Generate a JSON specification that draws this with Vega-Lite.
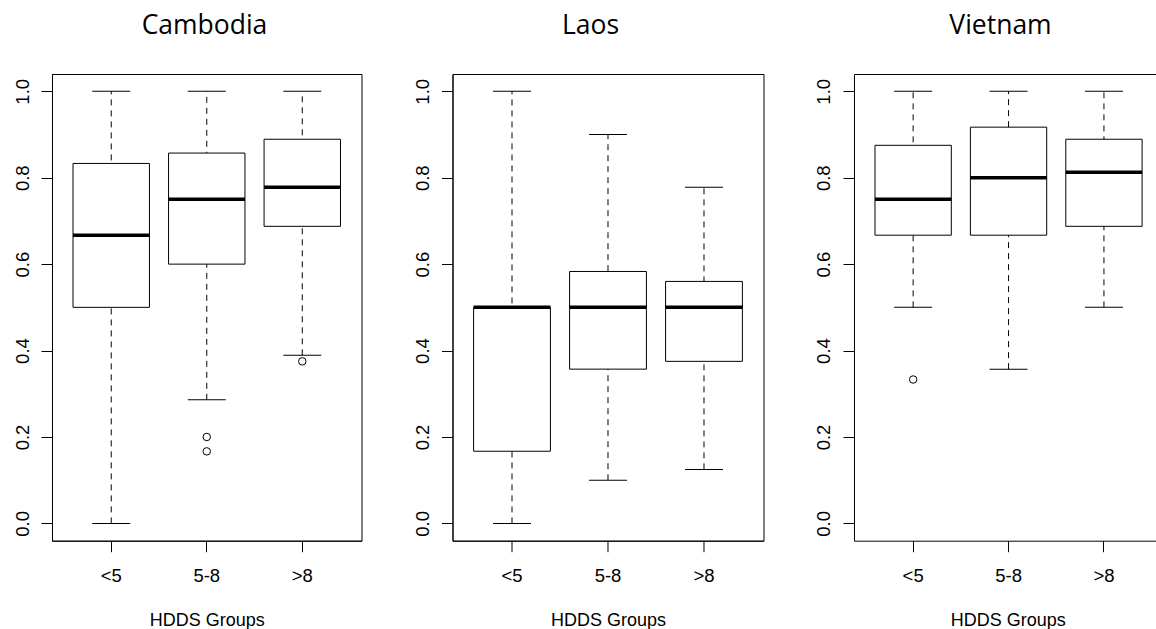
{
  "$schema": "https://vega.github.io/schema/vega-lite/v6.json",
  "background": "white",
  "padding": {"left": 12, "top": 13, "right": 0, "bottom": 0},
  "spacing": 90.5,
  "bounds": "flush",
  "datasets": {
    "cambodia": [
      {"group": "<5", "lower": 0, "q1": 0.5, "median": 0.667, "q3": 0.833, "upper": 1},
      {"group": "5-8", "lower": 0.286, "q1": 0.6, "median": 0.75, "q3": 0.857, "upper": 1},
      {"group": ">8", "lower": 0.389, "q1": 0.6875, "median": 0.778, "q3": 0.889, "upper": 1}
    ],
    "cambodia_out": [
      {"group": "5-8", "value": 0.2},
      {"group": "5-8", "value": 0.1667},
      {"group": ">8", "value": 0.375}
    ],
    "laos": [
      {"group": "<5", "lower": 0, "q1": 0.167, "median": 0.5, "q3": 0.5, "upper": 1},
      {"group": "5-8", "lower": 0.1, "q1": 0.357, "median": 0.5, "q3": 0.583, "upper": 0.9},
      {"group": ">8", "lower": 0.125, "q1": 0.375, "median": 0.5, "q3": 0.56, "upper": 0.778}
    ],
    "vietnam": [
      {"group": "<5", "lower": 0.5, "q1": 0.667, "median": 0.75, "q3": 0.875, "upper": 1},
      {"group": "5-8", "lower": 0.357, "q1": 0.667, "median": 0.8, "q3": 0.917, "upper": 1},
      {"group": ">8", "lower": 0.5, "q1": 0.6875, "median": 0.8125, "q3": 0.889, "upper": 1}
    ],
    "vietnam_out": [
      {"group": "<5", "value": 0.333}
    ]
  },
  "hconcat": [
    {
      "width": 309.5,
      "height": 466.7,
      "title": {"text": "Cambodia", "dx": -2.3},
      "data": {"name": "cambodia"},
      "encoding": {
        "x": {"field": "group", "type": "nominal", "sort": ["<5", "5-8", ">8"], "scale": {"paddingInner": 0.2, "paddingOuter": 0.22}, "axis": {"title": "HDDS Groups", "titleY": 84.6, "labelFontSize": 18.5}}
      },
      "layer": [
        {"mark": {"type": "rule", "color": "black", "strokeWidth": 1, "strokeDash": [6, 5]},
         "encoding": {"y": {"field": "lower", "type": "quantitative", "scale": {"domain": [-0.04, 1.04], "nice": false, "zero": false}, "axis": {"values": [0, 0.2, 0.4, 0.6, 0.8, 1], "format": ".1f", "title": null, "labelFontSize": 18.5}}, "y2": {"field": "upper"}}},
        {"mark": {"type": "bar", "fill": "white", "stroke": "black", "strokeWidth": 1},
         "encoding": {"y": {"field": "q1", "type": "quantitative"}, "y2": {"field": "q3"}}},
        {"mark": {"type": "tick", "color": "black", "opacity": 1, "size": 38, "thickness": 1},
         "encoding": {"y": {"field": "upper", "type": "quantitative"}}},
        {"mark": {"type": "tick", "color": "black", "opacity": 1, "size": 38, "thickness": 1},
         "encoding": {"y": {"field": "lower", "type": "quantitative"}}},
        {"mark": {"type": "tick", "color": "black", "opacity": 1, "size": 76.4, "thickness": 3.5},
         "encoding": {"y": {"field": "median", "type": "quantitative"}}},
        {"data": {"name": "cambodia_out"},
         "mark": {"type": "point", "shape": "circle", "filled": false, "stroke": "black", "strokeWidth": 1, "opacity": 1, "size": 56},
         "encoding": {"y": {"field": "value", "type": "quantitative"}}}
      ]
    },
    {
      "width": 311,
      "height": 466.7,
      "title": {"text": "Laos", "dx": -17.5},
      "data": {"name": "laos"},
      "encoding": {
        "x": {"field": "group", "type": "nominal", "sort": ["<5", "5-8", ">8"], "scale": {"paddingInner": 0.2, "paddingOuter": 0.22}, "axis": {"title": "HDDS Groups", "titleY": 84.6, "labelFontSize": 18.5}}
      },
      "layer": [
        {"mark": {"type": "rule", "color": "black", "strokeWidth": 1, "strokeDash": [6, 5]},
         "encoding": {"y": {"field": "lower", "type": "quantitative", "scale": {"domain": [-0.04, 1.04], "nice": false, "zero": false}, "axis": {"values": [0, 0.2, 0.4, 0.6, 0.8, 1], "format": ".1f", "title": null, "labelFontSize": 18.5}}, "y2": {"field": "upper"}}},
        {"mark": {"type": "bar", "fill": "white", "stroke": "black", "strokeWidth": 1},
         "encoding": {"y": {"field": "q1", "type": "quantitative"}, "y2": {"field": "q3"}}},
        {"mark": {"type": "tick", "color": "black", "opacity": 1, "size": 38, "thickness": 1},
         "encoding": {"y": {"field": "upper", "type": "quantitative"}}},
        {"mark": {"type": "tick", "color": "black", "opacity": 1, "size": 38, "thickness": 1},
         "encoding": {"y": {"field": "lower", "type": "quantitative"}}},
        {"mark": {"type": "tick", "color": "black", "opacity": 1, "size": 76.8, "thickness": 3.5},
         "encoding": {"y": {"field": "median", "type": "quantitative"}}}
      ]
    },
    {
      "width": 302,
      "height": 466.7,
      "title": {"text": "Vietnam", "dx": -4.5},
      "view": {"stroke": null},
      "data": {"name": "vietnam"},
      "resolve": {"axis": {"x": "independent"}},
      "layer": [
        {"mark": {"type": "rule", "color": "black", "strokeWidth": 1, "strokeDash": [6, 5]},
         "encoding": {
           "x": {"field": "group", "type": "nominal", "sort": ["<5", "5-8", ">8"], "scale": {"paddingInner": 0.2, "paddingOuter": 0.1828, "align": 0.602}, "axis": {"title": "HDDS Groups", "titleY": 84.6, "titleX": 153.8, "labelFontSize": 18.5}},
           "y": {"field": "lower", "type": "quantitative", "scale": {"domain": [-0.04, 1.04], "nice": false, "zero": false}, "axis": {"values": [0, 0.2, 0.4, 0.6, 0.8, 1], "format": ".1f", "title": null, "labelFontSize": 18.5}}, "y2": {"field": "upper"}}},
        {"mark": {"type": "bar", "fill": "white", "stroke": "black", "strokeWidth": 1},
         "encoding": {
           "x": {"field": "group", "type": "nominal", "sort": ["<5", "5-8", ">8"], "scale": {"paddingInner": 0.2, "paddingOuter": 0.1828, "align": 0.602}, "axis": {"orient": "top", "labels": false, "ticks": false, "title": null, "domain": true}},
           "y": {"field": "q1", "type": "quantitative"}, "y2": {"field": "q3"}}},
        {"mark": {"type": "tick", "color": "black", "opacity": 1, "size": 38, "thickness": 1},
         "encoding": {
           "x": {"field": "group", "type": "nominal", "sort": ["<5", "5-8", ">8"], "axis": null},
           "y": {"field": "upper", "type": "quantitative"}}},
        {"mark": {"type": "tick", "color": "black", "opacity": 1, "size": 38, "thickness": 1},
         "encoding": {
           "x": {"field": "group", "type": "nominal", "sort": ["<5", "5-8", ">8"], "axis": null},
           "y": {"field": "lower", "type": "quantitative"}}},
        {"mark": {"type": "tick", "color": "black", "opacity": 1, "size": 76.3, "thickness": 3.5},
         "encoding": {
           "x": {"field": "group", "type": "nominal", "sort": ["<5", "5-8", ">8"], "axis": null},
           "y": {"field": "median", "type": "quantitative"}}},
        {"data": {"name": "vietnam_out"},
         "mark": {"type": "point", "shape": "circle", "filled": false, "stroke": "black", "strokeWidth": 1, "opacity": 1, "size": 56},
         "encoding": {
           "x": {"field": "group", "type": "nominal", "sort": ["<5", "5-8", ">8"], "axis": null},
           "y": {"field": "value", "type": "quantitative"}}}
      ]
    }
  ],
  "config": {
    "view": {"stroke": "black", "strokeWidth": 1},
    "axis": {
      "grid": false,
      "domainColor": "black",
      "tickColor": "black",
      "labelColor": "black",
      "titleColor": "black",
      "labelFont": "Liberation Sans",
      "titleFont": "Liberation Sans",
      "labelFontSize": 18.5,
      "titleFontSize": 18,
      "titleFontWeight": "normal",
      "tickSize": 11,
      "domainWidth": 1,
      "tickWidth": 1
    },
    "axisX": {"labelAngle": 0, "labelPadding": 30, "labelBaseline": "alphabetic", "titleBaseline": "alphabetic"},
    "axisY": {"labelAngle": 270, "labelAlign": "center", "labelBaseline": "alphabetic", "labelPadding": 13},
    "title": {"font": "Open Sans", "fontSize": 26.5, "fontWeight": "normal", "color": "black", "baseline": "alphabetic", "frame": "group", "anchor": "middle", "offset": 34}
  }
}
